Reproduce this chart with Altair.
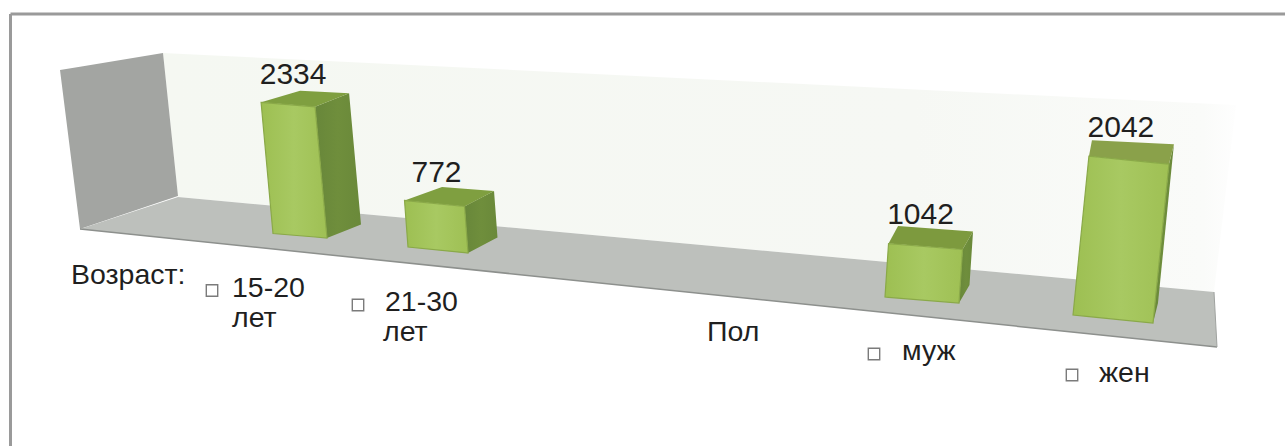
import altair as alt
import pandas as pd

W, H = 1285, 446

# Respondent counts and their labels
categories = ["15-20 лет", "21-30 лет", "муж", "жен"]
counts = [2334, 772, 1042, 2042]

FONT = "Liberation Sans"
VALUE_SIZE = 30
LABEL_SIZE = 28.5

x_scale = alt.Scale(domain=[0, W], nice=False, zero=False)
y_scale = alt.Scale(domain=[H, 0], nice=False, zero=False)

# Scene layout in the tilted view: footprint corners of each column
# (front-left, front-right, back-right, back-left) and how far one unit of
# value rises along the vertical of the view at that spot.
footprints = [
    [(273, 233.5), (327, 238), (361, 224.5), (312, 222)],
    [(408, 247), (468, 253), (497.5, 237.5), (445.5, 233.5)],
    [(885, 297), (959, 303), (969.5, 285), (894.5, 279.5)],
    [(1073, 315), (1153, 323), (1158, 303), (1076, 299)],
]
rise_per_unit = [(-0.0051, -0.0562), (-0.0045, -0.0603), (0.0034, -0.0513), (0.0078, -0.0778)]
label_gap = [7, 5, 2, 3]
top_colors = ["#7f9f40", "#7f9f40", "#7d9a3e", "#8aa14a"]

FLOOR = [(80, 229), (178, 197), (1214, 292), (1217, 347)]
LEFT_WALL = [(60, 70), (163, 53), (178, 196), (80, 229)]
BACK_WALL = [(163, 53), (1236, 105), (1214, 292), (178, 197)]


def horizontal_gradient(*stops):
    return alt.Gradient(
        gradient="linear", x1=0, y1=0, x2=1, y2=0,
        stops=[alt.GradientStop(offset=o, color=c) for o, c in stops],
    )


BACK_FILL = horizontal_gradient((0, "#f5f8f2"), (0.7, "#f6f8f4"), (0.97, "#fafbf9"), (1, "#fefefe"))
FRONT_FILL = horizontal_gradient((0, "#9dbf52"), (0.5, "#a8c962"), (1, "#9fc054"))
SIDE_FILL = horizontal_gradient((0, "#68873a"), (0.5, "#6f8e3c"), (1, "#6a893a"))


def envelope(points):
    """Turn a convex polygon into x / y / y2 rows for an area mark."""
    rows = []
    n = len(points)
    for x in sorted({p[0] for p in points}):
        hits = []
        for i in range(n):
            (x0, y0), (x1, y1) = points[i], points[(i + 1) % n]
            if min(x0, x1) <= x <= max(x0, x1):
                if x0 == x1:
                    hits += [y0, y1]
                else:
                    hits.append(y0 + (y1 - y0) * (x - x0) / (x1 - x0))
        rows.append({"x": x, "y": min(hits), "y2": max(hits)})
    return pd.DataFrame(rows)


def face(points, fill, stroke=None, stroke_width=1):
    kwargs = {"fill": fill, "line": False}
    if stroke:
        kwargs.update(stroke=stroke, strokeWidth=stroke_width)
    return alt.Chart(envelope(points)).mark_area(**kwargs).encode(
        x=alt.X("x:Q", scale=x_scale, axis=None),
        y=alt.Y("y:Q", scale=y_scale, axis=None, stack=None),
        y2="y2:Q",
    )


def rule_line(x0, y0, x1, y1, color, width):
    df = pd.DataFrame({"x": [x0], "y": [y0], "x2": [x1], "y2": [y1]})
    return alt.Chart(df).mark_rule(color=color, strokeWidth=width).encode(
        x=alt.X("x:Q", scale=x_scale, axis=None),
        y=alt.Y("y:Q", scale=y_scale, axis=None),
        x2="x2:Q",
        y2="y2:Q",
    )


def texts(rows, size, align="left"):
    df = pd.DataFrame(rows, columns=["x", "y", "t"])
    return alt.Chart(df).mark_text(
        font=FONT, fontSize=size, align=align, baseline="alphabetic", color="#1f1f1f"
    ).encode(
        x=alt.X("x:Q", scale=x_scale, axis=None),
        y=alt.Y("y:Q", scale=y_scale, axis=None),
        text="t:N",
    )


layers = [
    # Outer frame, open at the right and bottom
    rule_line(10.5, 14, W, 14, "#9a9a9a", 3),
    rule_line(10.5, 14, 10.5, H, "#9a9a9a", 3),
    # Room: back wall, side wall and floor
    face(BACK_WALL, BACK_FILL),
    face(LEFT_WALL, "#a3a5a2"),
    face(FLOOR, "#bdc0bc"),
    rule_line(80, 229, 1217, 347, "#8d908d", 1.5),
    rule_line(1214, 292, 1217, 347, "#a0a3a0", 1),
]

# Columns: every top corner is its footprint corner lifted by the value
value_labels = []
for count, feet, (rx, ry), gap, top_color in zip(
    counts, footprints, rise_per_unit, label_gap, top_colors
):
    lift = lambda p: (p[0] + rx * count, p[1] + ry * count)
    fl, fr, br, bl = feet
    tfl, tfr, tbr, tbl = lift(fl), lift(fr), lift(br), lift(bl)
    layers.append(face([fr, br, tbr, tfr], SIDE_FILL))
    layers.append(face([tfl, tfr, tbr, tbl], top_color))
    layers.append(face([fl, fr, tfr, tfl], FRONT_FILL, stroke="#8aa948", stroke_width=1.2))
    value_labels.append((tfl[0] + 32, tbl[1] - gap, str(count)))

layers.append(texts(value_labels, VALUE_SIZE, "center"))

# Group captions and category labels
layers.append(texts([
    (71, 284, "Возраст:"),
    (232, 297, "15-20"),
    (232, 327, "лет"),
    (385, 311, "21-30"),
    (383, 341, "лет"),
    (707, 341, "Пол"),
    (902, 360, "муж"),
    (1099, 382, "жен"),
], LABEL_SIZE))

# Hollow bullets in front of the category labels
bullets = pd.DataFrame({"x": [212, 358, 874, 1072], "y": [290.5, 305, 354, 375], "category": categories})
layers.append(
    alt.Chart(bullets).mark_point(shape="square", size=130, filled=False, color="#444444", strokeWidth=1.4).encode(
        x=alt.X("x:Q", scale=x_scale, axis=None),
        y=alt.Y("y:Q", scale=y_scale, axis=None),
    )
)

chart = (
    alt.layer(*layers)
    .properties(width=W, height=H, padding=0, background="white", autosize=alt.AutoSizeParams(type="none"))
    .configure_view(stroke=None)
)

chart.save("out.html", embed_options={"renderer": "svg", "actions": False})
